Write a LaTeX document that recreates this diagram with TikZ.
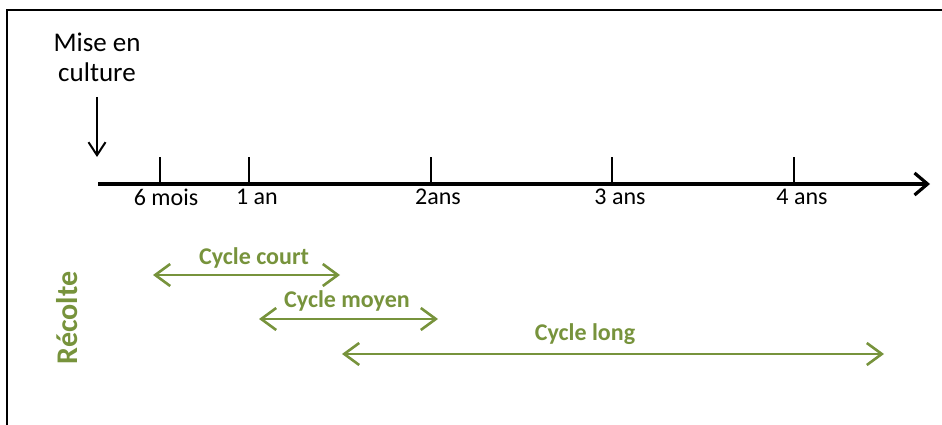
\documentclass[tikz,border=0pt]{standalone}
\usepackage{fontspec}
\setmainfont{Carlito}
\usetikzlibrary{arrows.meta}
\definecolor{olive}{HTML}{77933C}
\begin{document}
\begin{tikzpicture}[x=1pt,y=-1pt,
  axisline/.style={line width=3.2pt,-{Straight Barb[length=13pt,width=22pt,line width=3.2pt]}},
  tick/.style={line width=2.2pt},
  ticklabel/.style={font=\fontsize{24}{28}\selectfont,anchor=center},
  gbarb/.style={Straight Barb[length=15pt,width=22pt,line width=2.6pt]},
  cyc/.style={olive,line width=2.6pt,{Straight Barb[length=15pt,width=22pt,line width=2.6pt]}-{Straight Barb[length=15pt,width=22pt,line width=2.6pt]}},
  cyclabel/.style={olive,font=\bfseries\fontsize{24}{28}\selectfont,anchor=center}]
\useasboundingbox (0,0) rectangle (942,425);
\draw[line width=2.2pt] (7,425) -- (7,10) -- (942,10);
% axis
\coordinate (a0) at (98,184);
\coordinate (a1) at (930,184);
\draw[axisline] (a0) -- (a1);
\foreach \x/\n/\t/\dx in {160/t1/6 mois/6,249/t2/1 an/8,431/t3/2ans/7,612/t4/3 ans/8,794/t5/4 ans/8}{
  \coordinate (\n top) at (\x,157);
  \coordinate (\n bot) at (\x,183);
  \draw[tick] (\n top) -- (\n bot);
  \node[ticklabel] (\n lab) at (\x+\dx,197) {\t};
}
% mise en culture
\node[font=\fontsize{27}{30}\selectfont,align=center] (mise) at (97,57) {Mise en\\culture};
\coordinate (m0) at (97,97);
\coordinate (m1) at (97,157);
\draw[line width=2pt,-{Straight Barb[length=13pt,width=17pt,line width=2pt]}] (m0) -- (m1);
% recolte
\node[olive,font=\bfseries\fontsize{30}{34}\selectfont,rotate=90] (rec) at (67,318) {Récolte};
% cycles
\coordinate (c1a) at (153,275); \coordinate (c1b) at (340,275);
\draw[cyc] (c1a) -- (c1b);
\node[cyclabel] (c1) at (254,258) {Cycle court};
\coordinate (c2a) at (259,319); \coordinate (c2b) at (438,319);
\draw[cyc] (c2a) -- (c2b);
\node[cyclabel] (c2) at (347,301) {Cycle moyen};
\coordinate (c3a) at (342,354); \coordinate (c3b) at (884,354);
\draw[cyc] (c3a) -- (c3b);
\node[cyclabel] (c3) at (585,334) {Cycle long};
\end{tikzpicture}
\end{document}
